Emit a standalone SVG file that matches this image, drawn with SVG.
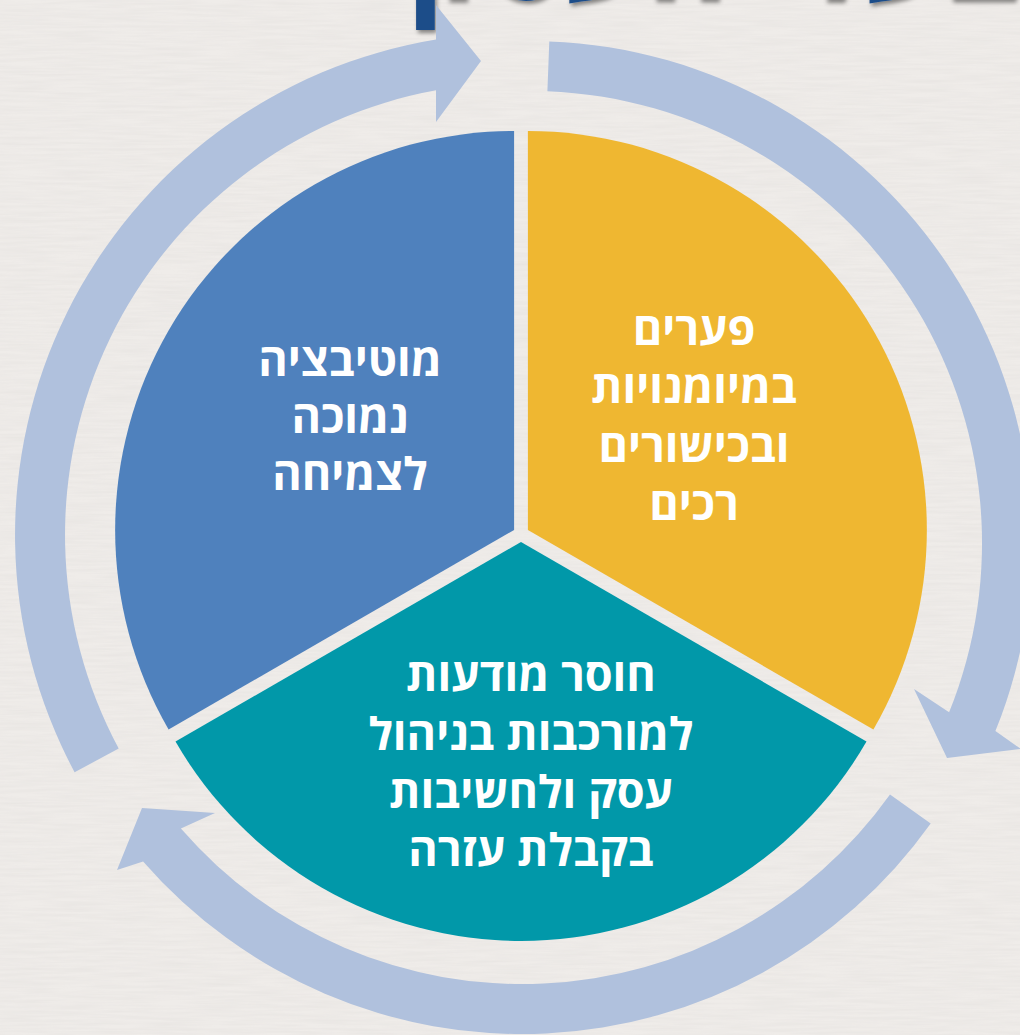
<svg xmlns="http://www.w3.org/2000/svg" width="1020" height="1035" viewBox="0 0 1020 1035">
  <defs>
    <filter id="shadow" x="-10%" y="-50%" width="120%" height="200%">
      <feDropShadow dx="2" dy="3" stdDeviation="2" flood-color="#000" flood-opacity="0.45"/>
    </filter>
    <filter id="paper" x="0" y="0" width="100%" height="100%">
      <feTurbulence type="fractalNoise" baseFrequency="0.02 0.35" numOctaves="3" seed="4" result="n"/>
      <feColorMatrix in="n" type="matrix" values="0 0 0 0 0.55  0 0 0 0 0.53  0 0 0 0 0.52  0 0 0 0.22 -0.06"/>
      <feComposite in2="SourceGraphic" operator="in"/>
    </filter>
  </defs>
  <style>
    .bg { fill: #EFECE9; }
    .arrow { fill: #B0C1DD; }
    .lbl { font-family: "Open Sans", "Liberation Sans", "DejaVu Sans", sans-serif; font-weight: 700; font-size: 45px; fill: #FFFFFF; text-anchor: middle; direction: rtl; }
    .title { font-family: "Open Sans", "Liberation Sans", "DejaVu Sans", sans-serif; font-weight: 700; font-size: 126px; fill: #1F4E89; text-anchor: middle; direction: rtl; }
  </style>
  <rect class="bg" x="0" y="0" width="1020" height="1035"/>
  <rect x="0" y="0" width="1020" height="1035" fill="#EFECE9" filter="url(#paper)"/>
  <g id="title">
    <text class="title" x="712" y="0" filter="url(#shadow)">בעלי העסק</text>
  </g>
  <g id="connectors">
    <path id="arrow-left" class="arrow" d="M74.6,772.2 A502,502 0 0 1 436,39.6 L436,5 L481,61 L436,122 L436,90.3 A452,452 0 0 0 118.7,748.6 Z"/>
    <path id="arrow-right" class="arrow" d="M549.3,41.4 A502,502 0 0 1 995.4,731.1 L1021,749 L947,758 L914,689 L949.1,712.3 A452,452 0 0 0 547.4,91.3 Z"/>
    <path id="arrow-bottom" class="arrow" d="M930.7,823.5 A502,502 0 0 1 143.1,861.4 L117,870 L142,808 L215,813 L180.9,828.6 A452,452 0 0 0 890,794.5 Z"/>
  </g>
  <g id="node-motivation">
    <path d="M514.1,530 L514.1,131 A399,399 0 0 0 168.6,729.5 Z" fill="#4F81BD"/>
    <text class="lbl" x="350" y="376">מוטיבציה</text>
    <text class="lbl" x="350" y="433">נמוכה</text>
    <text class="lbl" x="350" y="490">לצמיחה</text>
  </g>
  <g id="node-gaps">
    <path d="M527.9,530 L527.9,131 A399,399 0 0 1 873.4,729.5 Z" fill="#EFB731"/>
    <text class="lbl" x="694" y="345">פערים</text>
    <text class="lbl" x="694" y="403">במיומנויות</text>
    <text class="lbl" x="694" y="462">ובכישורים</text>
    <text class="lbl" x="694" y="520">רכים</text>
  </g>
  <g id="node-awareness">
    <path d="M521,542 L866.5,741.5 A399,399 0 0 1 175.5,741.5 Z" fill="#0198A9"/>
    <text class="lbl" x="531" y="691">חוסר מודעות</text>
    <text class="lbl" x="531" y="750">למורכבות בניהול</text>
    <text class="lbl" x="531" y="808">עסק ולחשיבות</text>
    <text class="lbl" x="531" y="866">בקבלת עזרה</text>
  </g>
</svg>
